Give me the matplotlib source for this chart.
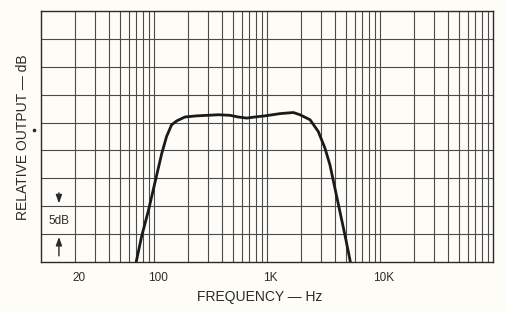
import matplotlib
matplotlib.use("Agg")
import matplotlib.pyplot as plt
import matplotlib.transforms as mtransforms
from matplotlib.lines import Line2D

# response curve (Hz, dB above bottom gridline)
freq = [70, 78, 90, 103, 118, 130, 144, 160, 189, 240, 373, 473, 560, 665, 787, 966,
        1310, 1720, 1970, 2420, 2860, 3280, 3630, 4020, 4450, 4930, 5380, 5500]
level = [0, 4.5, 9.3, 14.4, 19.5, 22.5, 24.6, 25.3, 26.0, 26.2, 26.4, 26.3, 26.0, 25.8, 26.0, 26.2,
         26.6, 26.8, 26.4, 25.5, 23.4, 20.4, 17.4, 13.2, 9.0, 4.8, 1.0, 0]

tick_freqs = [20, 100, 1000, 10000]
tick_labels = ["20", "100", "1K", "10K"]

paper = "#fdfcf6"
ink = "#2a2a2a"
grid_ink = "#4a4a4a"
plt.rcParams['font.family'] = ['Liberation Sans', 'DejaVu Sans']

fig = plt.figure(figsize=(5.05, 3.12), dpi=100, facecolor=paper)
ax = fig.add_axes([0.0806, 0.1603, 0.8950, 0.8044])
ax.set_facecolor(paper)

ax.set_xscale("log")
ax.set_xlim(10, 100000)
ax.set_ylim(0, 45)

# graph paper: every 1-2-3...9 per decade, 5 dB rows
for dec in [10, 100, 1000, 10000]:
    for m in range(2, 11):
        f = dec * m
        if f < 100000:
            ax.axvline(f, color=grid_ink, lw=0.8, zorder=1)
for y in range(5, 45, 5):
    ax.axhline(y, color=grid_ink, lw=0.8, zorder=1)

ax.plot(freq, level, color="#1a1a1a", lw=2.0, solid_capstyle="round",
        solid_joinstyle="round", zorder=3)

ax.set_yticks([])
ax.set_xticks(tick_freqs)
ax.set_xticklabels(tick_labels, fontsize=8.5, color=ink)
ax.minorticks_off()
ax.tick_params(axis="x", length=0, pad=7)
shift = mtransforms.ScaledTranslation(4 / 100, 0, fig.dpi_scale_trans)
for lab in ax.get_xticklabels():
    lab.set_transform(lab.get_transform() + shift)

for s in ax.spines.values():
    s.set_color(ink)
    s.set_linewidth(1.0)

# 5 dB scale marker
ax.annotate("", xy=(14.5, 10), xytext=(14.5, 12.9),
            arrowprops=dict(arrowstyle="-|>,head_width=0.18,head_length=0.5", color=ink, lw=1))
ax.annotate("", xy=(14.5, 5), xytext=(14.5, 0.6),
            arrowprops=dict(arrowstyle="-|>,head_width=0.18,head_length=0.5", color=ink, lw=1))
ax.text(14.5, 7.4, "5dB", fontsize=8.5, color=ink, ha="center", va="center", zorder=4)

fig.text(260 / 505, 1 - 297 / 312, "FREQUENCY — Hz", fontsize=10, color=ink,
         ha="center", va="center")
fig.text(23.5 / 505, 1 - 137 / 312, "RELATIVE OUTPUT — dB", fontsize=10, color=ink,
         ha="center", va="center", rotation=90)
fig.add_artist(Line2D([34.3 / 505], [1 - 130 / 312], marker="o", markersize=1.6,
                      color=ink, transform=fig.transFigure))

fig.savefig("out.png", dpi=100, facecolor=paper)
